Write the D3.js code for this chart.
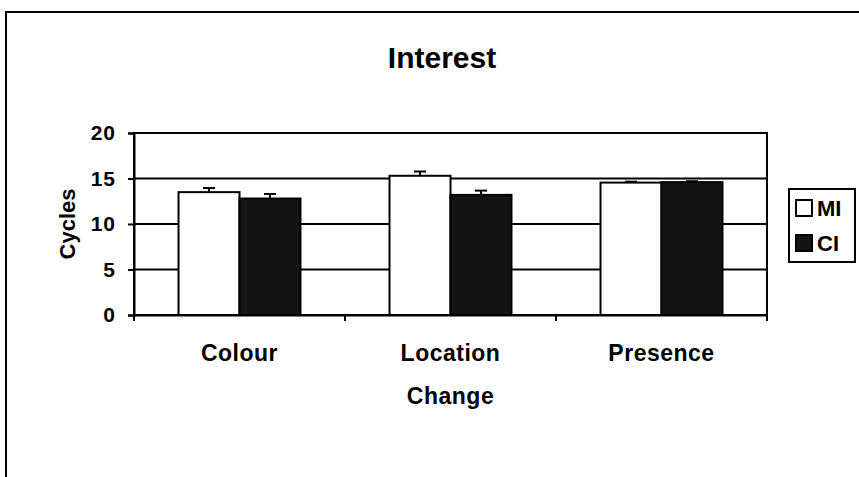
<!DOCTYPE html>
<html>
<head>
<meta charset="utf-8">
<script src="https://cdn.jsdelivr.net/npm/d3@7"></script>
<style>
	body { margin: 0; background: #fff; }
	text { font-family: "Liberation Sans", Arial, sans-serif; font-weight: bold; fill: #000; }
</style>
</head>
<body>
<div class="js-chart"></div>
<script>
'use strict';

// values
const categories = ['Colour', 'Location', 'Presence'];
const seriesNames = ['MI', 'CI'];
const miValues = [13.5, 15.3, 14.55];
const ciValues = [12.8, 13.2, 14.6];
const miErrors = [0.45, 0.47, 0.1];
const ciErrors = [0.5, 0.47, 0.1];
const yTicks = [0, 5, 10, 15, 20];

const seriesFill = { MI: '#ffffff', CI: '#141414' };

function drawChart() {

	let svgWidth = 859;
	let svgHeight = 477;

	// plot area
	let left = 134, right = 767, top = 133, bottom = 315;

	let svg = d3.select('.js-chart')
				.append('svg')
				.attr('width', svgWidth)
				.attr('height', svgHeight);

	// outer frame (only top and left show in the picture)
	svg.append('path')
		.attr('d', 'M6,478 L6,12 L860,12')
		.attr('fill', 'none')
		.attr('stroke', '#000')
		.attr('stroke-width', 2);

	const x0 = d3.scaleBand()
				.domain(categories)
				.range([left, right])
				.padding(0);

	const x1 = d3.scaleBand()
				.domain(seriesNames)
				.range([0, x0.bandwidth()])
				.paddingInner(0)
				.paddingOuter(0.73);

	const y = d3.scaleLinear()
				.domain([0, 20])
				.range([bottom, top]);

	// plot frame
	svg.append('rect')
		.attr('x', left)
		.attr('y', top)
		.attr('width', right - left)
		.attr('height', bottom - top)
		.attr('fill', '#fff')
		.attr('stroke', '#000')
		.attr('stroke-width', 2);

	// gridlines
	svg.append('g')
		.selectAll('line')
		.data(yTicks.slice(1))
		.enter()
		.append('line')
		.attr('x1', left)
		.attr('x2', right)
		.attr('y1', d => y(d))
		.attr('y2', d => y(d))
		.attr('stroke', '#000')
		.attr('stroke-width', 2);

	// y axis
	const yAxis = svg.append('g')
		.attr('transform', `translate(${left},0)`)
		.call(d3.axisLeft(y).tickValues(yTicks).tickSize(6).tickPadding(12));
	yAxis.select('.domain').attr('stroke-width', 2);
	yAxis.selectAll('.tick line').attr('stroke-width', 2);
	yAxis.selectAll('text')
		.style('font-size', '21px')
		.style('font-family', '"Liberation Sans", Arial, sans-serif')
		.style('font-weight', 'bold')
		.attr('letter-spacing', 1);

	// x axis: ticks sit on category boundaries
	const xAxis = svg.append('g')
		.attr('transform', `translate(0,${bottom})`)
		.call(d3.axisBottom(x0).tickSize(0).tickPadding(30));
	xAxis.select('.domain').attr('stroke-width', 2);
	xAxis.selectAll('text')
		.style('font-size', '23px')
		.style('font-family', '"Liberation Sans", Arial, sans-serif')
		.style('font-weight', 'bold')
		.attr('letter-spacing', 0.5);

	const boundaries = categories.map(c => x0(c)).concat([x0(categories[categories.length - 1]) + x0.bandwidth()]);
	svg.append('g')
		.selectAll('line')
		.data(boundaries)
		.enter()
		.append('line')
		.attr('x1', d => d)
		.attr('x2', d => d)
		.attr('y1', bottom)
		.attr('y2', bottom + 6)
		.attr('stroke', '#000')
		.attr('stroke-width', 2);

	// bars
	const rows = [];
	categories.forEach(function(c, i) {
		rows.push({ cat: c, series: 'MI', value: miValues[i], err: miErrors[i] });
		rows.push({ cat: c, series: 'CI', value: ciValues[i], err: ciErrors[i] });
	});

	svg.append('g')
		.selectAll('rect')
		.data(rows)
		.enter()
		.append('rect')
		.attr('x', d => x0(d.cat) + x1(d.series))
		.attr('y', d => y(d.value))
		.attr('width', x1.bandwidth())
		.attr('height', d => y(0) - y(d.value))
		.attr('fill', d => seriesFill[d.series])
		.attr('stroke', '#000')
		.attr('stroke-width', 2);

	// error bars (plus only)
	const errG = svg.append('g')
		.selectAll('g')
		.data(rows)
		.enter()
		.append('g')
		.attr('transform', d => `translate(${x0(d.cat) + x1(d.series) + x1.bandwidth() / 2},0)`);

	errG.append('line')
		.attr('y1', d => y(d.value))
		.attr('y2', d => y(d.value + d.err))
		.attr('stroke', '#000')
		.attr('stroke-width', 2);

	errG.append('line')
		.attr('x1', -6)
		.attr('x2', 6)
		.attr('y1', d => y(d.value + d.err))
		.attr('y2', d => y(d.value + d.err))
		.attr('stroke', '#000')
		.attr('stroke-width', 2);

	// title and axis titles
	svg.append('text')
		.attr('x', 442)
		.attr('y', 68)
		.attr('text-anchor', 'middle')
		.style('font-size', '30px')
		.text('Interest');

	svg.append('text')
		.attr('x', (left + right) / 2)
		.attr('y', 404)
		.attr('text-anchor', 'middle')
		.style('font-size', '23px')
		.attr('letter-spacing', 0.5)
		.text('Change');

	svg.append('text')
		.attr('transform', `translate(75,${(top + bottom) / 2}) rotate(-90)`)
		.attr('text-anchor', 'middle')
		.style('font-size', '22px')
		.text('Cycles');

	// legend
	const legend = svg.append('g').attr('transform', 'translate(789,189)');
	legend.append('rect')
		.attr('width', 66)
		.attr('height', 73)
		.attr('fill', '#fff')
		.attr('stroke', '#000')
		.attr('stroke-width', 2);

	const item = legend.selectAll('.item')
		.data(seriesNames)
		.enter()
		.append('g')
		.attr('class', 'item')
		.attr('transform', (d, i) => `translate(7,${19 + i * 35})`);

	item.append('rect')
		.attr('y', -8)
		.attr('width', 16)
		.attr('height', 16)
		.attr('fill', d => seriesFill[d])
		.attr('stroke', '#000')
		.attr('stroke-width', 2);

	item.append('text')
		.attr('x', 21)
		.attr('y', 8)
		.style('font-size', '22px')
		.text(d => d);
}

drawChart();
</script>
</body>
</html>
